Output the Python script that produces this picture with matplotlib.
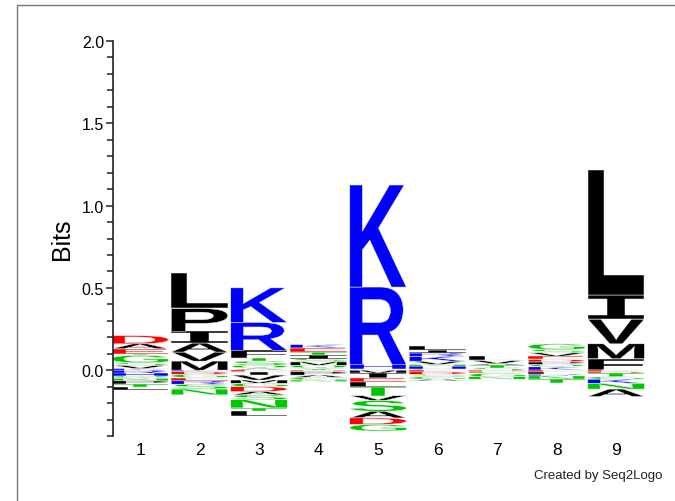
import matplotlib
matplotlib.use("Agg")
import matplotlib.pyplot as plt
from matplotlib.textpath import TextPath
from matplotlib.font_manager import FontProperties
from matplotlib.patches import PathPatch
from matplotlib.transforms import Affine2D
from matplotlib.lines import Line2D

# ---- data (bits) ----
positions = [1, 2, 3, 4, 5, 6, 7, 8, 9]
# positive stacks, listed bottom -> top
pos_letters = ["KVSGTEAD", "MVAIPL", "AQSTFRK", "YQMSITEK", "QHRK",
               "GHNVKRIL", "STAVL", "KQPDEVSG", "FMVIL"]
pos_heights = [
    [0.01, 0.02, 0.015, 0.045, 0.01, 0.03, 0.03, 0.05],
    [0.055, 0.055, 0.055, 0.07, 0.14, 0.215],
    [0.01, 0.02, 0.025, 0.02, 0.045, 0.17, 0.21],
    [0.01, 0.02, 0.02, 0.02, 0.02, 0.02, 0.025, 0.02],
    [0.005, 0.03, 0.47, 0.62],
    [0.01, 0.015, 0.01, 0.02, 0.03, 0.02, 0.02, 0.02],
    [0.015, 0.015, 0.01, 0.02, 0.025],
    [0.02, 0.015, 0.015, 0.015, 0.02, 0.02, 0.02, 0.035],
    [0.07, 0.09, 0.15, 0.145, 0.76],
]
# negative stacks, listed from zero downward
neg_letters = ["RHQNPTL", "KDGERSN", "EIVMGDASNTL", "DPAGN", "MIELTVSADG",
               "EDSGA", "DEGN", "ELRNT", "EDTGKNA"]
neg_heights = [
    [0.02, 0.015, 0.015, 0.015, 0.02, 0.015, 0.02],
    [0.01, 0.015, 0.02, 0.02, 0.02, 0.03, 0.035],
    [0.01, 0.02, 0.03, 0.02, 0.02, 0.03, 0.02, 0.03, 0.05, 0.02, 0.03],
    [0.01, 0.02, 0.015, 0.015, 0.01],
    [0.02, 0.03, 0.02, 0.03, 0.055, 0.03, 0.065, 0.04, 0.04, 0.04],
    [0.01, 0.015, 0.015, 0.015, 0.01],
    [0.01, 0.01, 0.02, 0.015],
    [0.01, 0.015, 0.01, 0.02, 0.02],
    [0.01, 0.01, 0.02, 0.015, 0.025, 0.035, 0.045],
]
yticks = [0.0, 0.5, 1.0, 1.5, 2.0]
ytick_labels = ["0.0", "0.5", "1.0", "1.5", "2.0"]

colors = {}
for c in "DE":
    colors[c] = "#FF0000"
for c in "HKR":
    colors[c] = "#0000FF"
for c in "ACFILMPVW":
    colors[c] = "#000000"
for c in "GNQSTY":
    colors[c] = "#00C800"

fp_main = FontProperties(family="Liberation Sans", weight="bold")
fp_mono = FontProperties(family="DejaVu Sans Mono", weight="bold")


def draw_letter(ax, ch, x, y0, h, w, color):
    fp = fp_mono if ch == "I" else fp_main
    tp = TextPath((0, 0), ch, size=1, prop=fp)
    bb = tp.get_extents()
    tr = (Affine2D().translate(-bb.x0, -bb.y0)
          .scale(w / bb.width, h / bb.height)
          .translate(x - w / 2, y0))
    ax.add_patch(PathPatch(tr.transform_path(tp), fc=color, ec="#f4f4f4", lw=0.35))


W, H = 675, 502
fig = plt.figure(figsize=(W / 100, H / 100), dpi=100)
ax = fig.add_axes([113 / W, 1 - 437 / H, 1 - 113 / W, (437 - 42) / H])

width = 0.95
for x, letters, hs in zip(positions, pos_letters, pos_heights):
    y = 0.0
    for ch, h in zip(letters, hs):
        draw_letter(ax, ch, x, y, h, width, colors[ch])
        y += h
for x, letters, hs in zip(positions, neg_letters, neg_heights):
    y = 0.0
    for ch, h in zip(letters, hs):
        y -= h
        draw_letter(ax, ch, x, y, h, width, colors[ch])

ax.set_xlim(0.546, 9.99)
ax.set_ylim(-0.4, 2.0)
for s in ["top", "right", "bottom"]:
    ax.spines[s].set_visible(False)
ax.spines["left"].set_linewidth(1.2)
ax.spines["left"].set_color("#222222")

ax.set_yticks(yticks)
ax.set_yticklabels(ytick_labels, fontsize=11.5, family="Liberation Sans")
ax.set_yticks([v / 10 for v in range(-4, 21) if v % 5 != 0], minor=True)
ax.tick_params(axis="y", which="major", length=5, width=1.1, pad=1.5, color="#222222")
ax.tick_params(axis="y", which="minor", length=4, width=1.1, color="#222222")

ax.set_xticks(positions)
ax.set_xticklabels([str(p) for p in positions], fontsize=12.5, family="Liberation Sans")
ax.tick_params(axis="x", length=0, pad=4)

ax.set_ylabel("Bits", fontsize=18, family="Liberation Sans")
ax.yaxis.set_label_coords(-0.07, 0.5)

fig.text(598 / W, 1 - 476 / H, "Created by Seq2Logo", fontsize=9.5,
         family="Liberation Sans", ha="center", va="center", color="#222222")

# outer frame
fig.add_artist(Line2D([17 / W, 17 / W, 1.0], [0.0, 1 - 6 / H, 1 - 6 / H],
                      color="#777777", lw=1.0, transform=fig.transFigure))

fig.savefig("out.png", dpi=100)
